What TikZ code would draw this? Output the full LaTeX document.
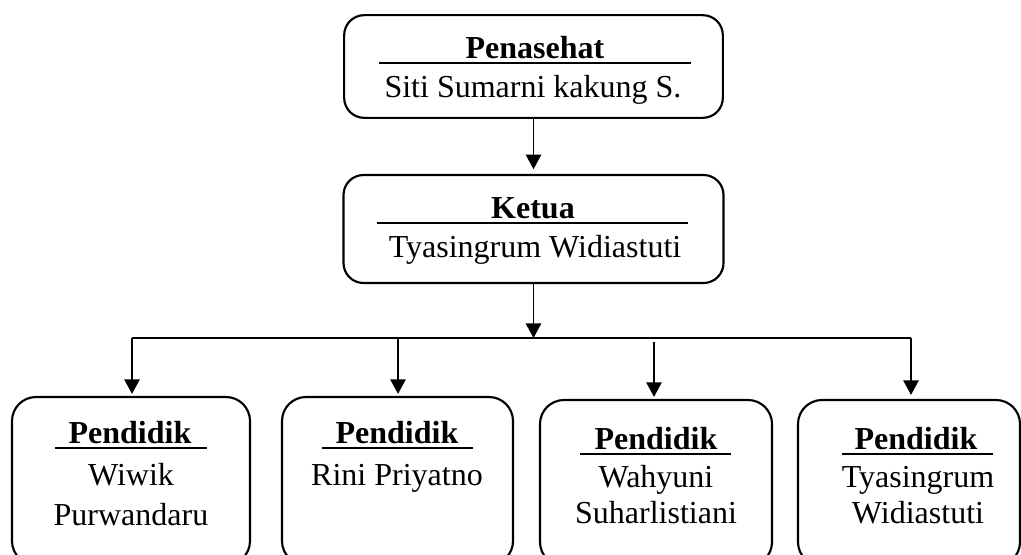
\documentclass[tikz,border=0pt]{standalone}
\usepackage{fontspec}
\setmainfont{Liberation Serif}
\usetikzlibrary{arrows.meta}
\begin{document}
\begin{tikzpicture}[x=0.75pt,y=-0.75pt,
  box/.style={draw, line width=1.6pt, rounded corners=15pt, inner sep=0pt},
  bbox/.style={box, rounded corners=18pt},
  lbl/.style={anchor=base, inner sep=0pt, font=\fontsize{24}{28}\selectfont},
  head/.style={anchor=base, inner sep=0pt, font=\fontsize{24}{28}\selectfont\bfseries},
  rule/.style={line width=1.2pt},
  conn/.style={line width=1.4pt},
  arr/.style={conn, -{Triangle[width=11.5pt,length=11pt]}}]
\useasboundingbox (0,0) rectangle (1021,554);
\clip (0,0) rectangle (1021,554);
% boxes
\node[box, minimum width=284pt, minimum height=77pt] (pen) at (533.5,66.5) {};
\node[box, minimum width=285pt, minimum height=81pt] (ket) at (533.5,229) {};
\node[bbox, minimum width=178.5pt, minimum height=126pt] (b1) at (131,481) {};
\node[bbox, minimum width=173.25pt, minimum height=126pt] (b2) at (397.5,481) {};
\node[bbox, minimum width=174pt, minimum height=124.5pt] (b3) at (656,483) {};
\node[bbox, minimum width=166.5pt, minimum height=124.5pt] (b4) at (909,483) {};
% texts
\node[head] (penT) at (535,58) {Penasehat};
\node[lbl] (penN) at (533,97) {Siti Sumarni kakung S.};
\draw[rule] (379,63) -- (691,63);
\node[head] (ketT) at (533,218) {Ketua};
\node[lbl] (ketN) at (535,257) {Tyasingrum Widiastuti};
\draw[rule] (377,223) -- (688,223);
\node[head] (t1) at (130,443) {Pendidik};
\draw[rule] (55,448) -- (207,448);
\node[lbl] (n1a) at (131,485) {Wiwik};
\node[lbl] (n1b) at (131,525) {Purwandaru};
\node[head] (t2) at (397,443) {Pendidik};
\draw[rule] (322,448) -- (473,448);
\node[lbl] (n2a) at (397,485) {Rini Priyatno};
\node[head] (t3) at (656,449) {Pendidik};
\draw[rule] (580,454) -- (731,454);
\node[lbl] (n3a) at (656,487) {Wahyuni};
\node[lbl] (n3b) at (656,523) {Suharlistiani};
\node[head] (t4) at (916,449) {Pendidik};
\draw[rule] (842,454) -- (993,454);
\node[lbl] (n4a) at (918,487) {Tyasingrum};
\node[lbl] (n4b) at (918,523) {Widiastuti};
% connectors
\draw[arr, shorten >=3.5pt] (pen.south) -- (ket.north);
\coordinate (j) at (533.5,338);
\draw[arr] (ket.south) -- (j);
\coordinate (d1) at (132,338);
\coordinate (d2) at (398,338);
\coordinate (d3) at (654,342);
\coordinate (d4) at (911,338);
\draw[conn] (d1) -- (d4);
\draw[arr, shorten >=1.5pt] (d1) -- (d1 |- b1.north);
\draw[arr, shorten >=1.5pt] (d2) -- (d2 |- b2.north);
\draw[arr, shorten >=1.5pt] (d3) -- (d3 |- b3.north);
\draw[arr, shorten >=3pt] (d4) -- (d4 |- b4.north);
\end{tikzpicture}
\end{document}
